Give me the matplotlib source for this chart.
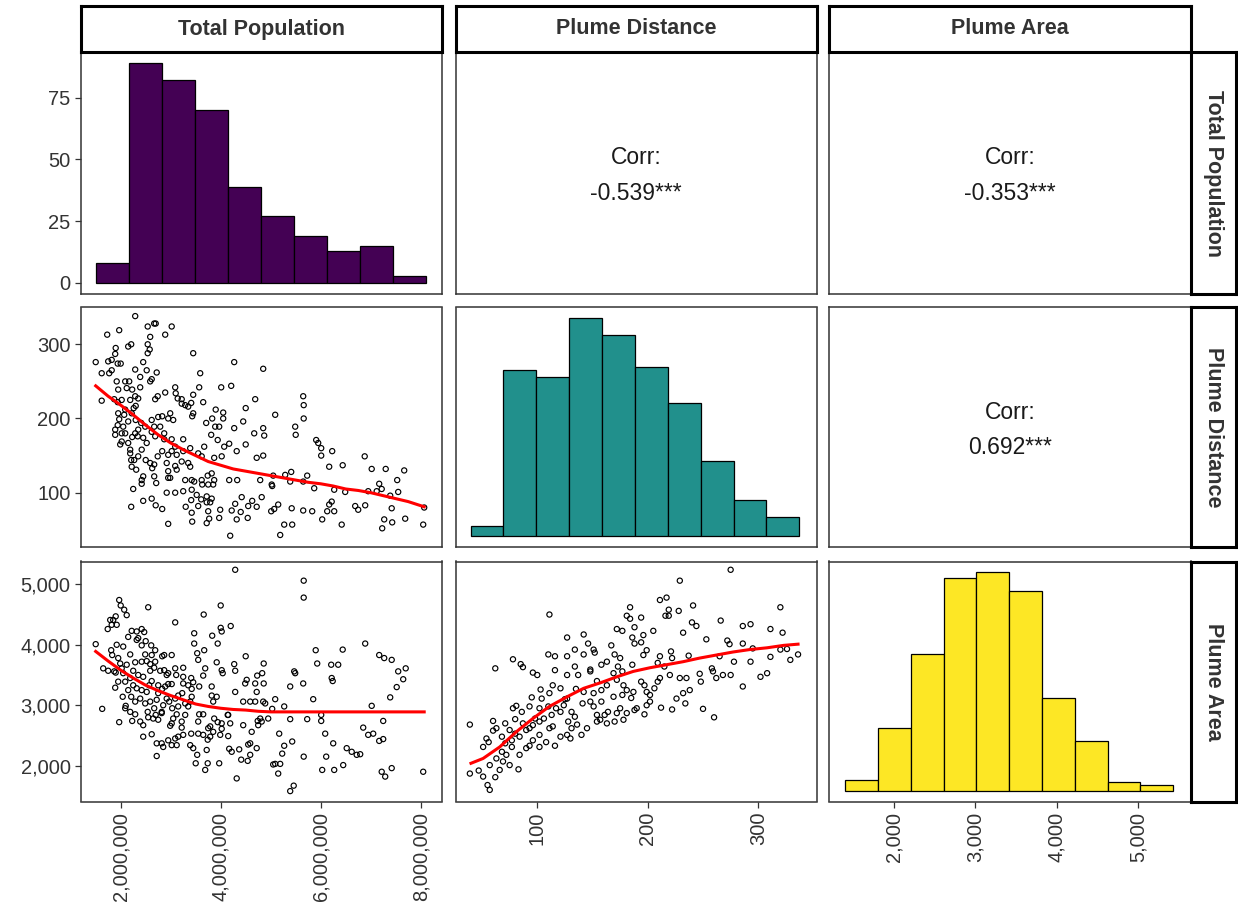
import numpy as np
import matplotlib.pyplot as plt
from matplotlib.ticker import FuncFormatter

plt.rcParams['font.family'] = ['Liberation Sans', 'DejaVu Sans']

# ---------------------------------------------------------------------------
# Data
# ---------------------------------------------------------------------------
var_names = ["Total Population", "Plume Distance", "Plume Area"]

# diagonal histograms (bin edges + counts)
pop_bin_edges_m = [1.506, 2.165, 2.825, 3.484, 4.144, 4.803, 5.462, 6.122, 6.781, 7.441, 8.100]
pop_counts = [8, 89, 82, 70, 39, 27, 19, 13, 15, 3]
dist_bin_edges = [39.7, 69.4, 99.2, 128.9, 158.7, 188.4, 218.1, 247.9, 277.6, 307.4, 337.1]
dist_counts = [3, 51, 49, 67, 62, 52, 41, 23, 11, 6]
area_bin_edges = [1398, 1801, 2204, 2608, 3011, 3414, 3817, 4220, 4624, 5027, 5430]
area_counts = [4, 23, 50, 78, 80, 73, 34, 18, 3, 2]

# upper triangle correlations: (pop, dist), (pop, area), (dist, area)
corr_labels = ["-0.539***", "-0.353***", "0.692***"]

# population (millions) vs plume distance
pop_dist_pairs = [
    (2.29, 338), (1.73, 313), (1.97, 319), (2.54, 324), (2.70, 328), (2.67, 328), (3.02, 324), (2.89, 313),
    (2.59, 310), (2.15, 297), (2.21, 300), (1.90, 295), (1.89, 287), (2.54, 300), (2.58, 293), (2.54, 288),
    (3.45, 288), (1.50, 276), (1.75, 277), (1.82, 279), (1.94, 274), (1.62, 261), (1.77, 261), (1.82, 265),
    (2.00, 274), (2.45, 276), (2.29, 266), (2.52, 265), (2.72, 262), (2.39, 256), (2.62, 253), (2.59, 250),
    (2.09, 250), (2.17, 250), (1.92, 250), (2.12, 241), (2.23, 239), (2.39, 242), (1.95, 239), (2.69, 226),
    (2.74, 230), (2.89, 235), (3.09, 242), (3.10, 234), (3.59, 261), (3.57, 242), (4.01, 242), (4.21, 244),
    (4.27, 276), (4.85, 267), (1.62, 224), (1.87, 226), (1.94, 222), (2.02, 225), (2.19, 225), (2.29, 230),
    (2.35, 227), (2.30, 217), (2.26, 214), (2.09, 212), (1.95, 207), (2.07, 205), (2.22, 207), (3.22, 220),
    (3.29, 218), (3.41, 221), (3.45, 232), (3.35, 216), (3.65, 222), (3.14, 227), (3.22, 226), (4.50, 214),
    (4.69, 226), (5.09, 205), (5.65, 230), (5.66, 218), (5.66, 200), (3.45, 207), (3.43, 203), (2.99, 207),
    (2.83, 203), (2.75, 202), (2.62, 198), (2.95, 200), (3.05, 198), (2.87, 180), (3.90, 212), (4.05, 208),
    (4.05, 200), (3.83, 200), (3.71, 194), (3.89, 189), (3.97, 189), (4.27, 187), (4.45, 196), (4.85, 187),
    (4.67, 180), (4.87, 177), (5.49, 189), (5.50, 178), (5.91, 171), (5.95, 167), (6.01, 160), (6.01, 150),
    (6.23, 156), (6.17, 135), (6.44, 137), (6.88, 149), (7.02, 132), (7.30, 132), (7.67, 130), (4.50, 165),
    (4.32, 156), (4.17, 166), (4.07, 162), (3.81, 178), (3.94, 171), (3.67, 162), (3.55, 153), (3.62, 149),
    (4.02, 149), (3.87, 147), (4.72, 147), (4.85, 150), (5.05, 123), (5.41, 128), (5.29, 124), (5.73, 123),
    (4.79, 117), (4.17, 117), (4.33, 117), (5.03, 109), (5.39, 115), (5.65, 115), (5.87, 106), (6.27, 104),
    (6.49, 101), (6.95, 102), (7.17, 112), (7.22, 105), (7.12, 102), (7.39, 96), (7.53, 117), (7.55, 101),
    (8.07, 80), (8.05, 57), (7.42, 79), (7.27, 64), (7.43, 60), (7.23, 52), (7.69, 65), (6.89, 83),
    (6.69, 82), (6.75, 77), (6.42, 57), (6.22, 88), (6.17, 84), (6.13, 75), (6.27, 75), (6.03, 64),
    (5.83, 75), (5.65, 76), (5.42, 79), (5.43, 57), (5.27, 57), (5.19, 43), (5.15, 84), (5.07, 78),
    (5.01, 75), (4.82, 94), (4.63, 89), (4.55, 82), (4.72, 81), (4.42, 94), (4.29, 85), (4.22, 76),
    (4.32, 64), (4.54, 66), (4.40, 74), (4.19, 42), (3.99, 77), (3.97, 66), (3.75, 75), (3.77, 65),
    (3.72, 59), (3.42, 73), (3.43, 61), (3.30, 81), (3.41, 90), (2.95, 58), (3.72, 87), (3.79, 87),
    (3.61, 91), (3.55, 82), (3.52, 97), (3.25, 102), (3.42, 104), (3.09, 100), (2.92, 100), (2.70, 83),
    (2.83, 78), (2.62, 92), (2.45, 89), (2.21, 81), (2.25, 105), (2.42, 112), (2.71, 113), (2.67, 122),
    (2.74, 149), (2.50, 144), (2.27, 144), (2.19, 153), (2.22, 135), (2.31, 131), (2.21, 144), (2.59, 140),
    (2.67, 138), (2.63, 133), (2.92, 140), (2.95, 129), (3.09, 136), (3.12, 131), (3.22, 142), (3.35, 140),
    (3.39, 135), (3.29, 117), (3.42, 117), (3.47, 115), (3.62, 117), (3.74, 123), (3.82, 126), (3.87, 117),
    (3.75, 111), (3.63, 111), (3.85, 111), (2.34, 176), (2.23, 175), (2.02, 180), (1.89, 178), (1.99, 165),
    (2.15, 167), (2.29, 180), (2.45, 174), (2.52, 167), (2.69, 176), (2.87, 172), (3.02, 172), (3.25, 172),
    (3.09, 162), (3.02, 156), (2.83, 156), (2.95, 151), (3.12, 151), (3.25, 156), (3.39, 160), (1.89, 185),
    (1.94, 191), (2.05, 189), (2.15, 196), (2.30, 198), (2.41, 194), (2.49, 189), (2.67, 189), (2.79, 189),
    (2.62, 182), (2.35, 185), (2.09, 180), (1.97, 199), (2.19, 158), (2.35, 149), (2.42, 158), (2.02, 169),
    (2.42, 117), (2.45, 122), (2.95, 120), (2.99, 120), (3.72, 95), (3.82, 92), (5.02, 111),
]

# population (millions) vs plume area
pop_area_pairs = [
    (4.29, 5240), (5.66, 5060), (5.66, 4780), (4.00, 4650), (2.55, 4620), (1.97, 4740), (2.00, 4650), (2.07, 4580),
    (2.12, 4490), (1.90, 4470), (1.85, 4410), (1.79, 4410), (1.82, 4330), (1.92, 4330), (1.74, 4260), (3.09, 4370),
    (3.66, 4500), (4.00, 4280), (4.20, 4310), (4.02, 4220), (3.83, 4150), (3.94, 4020), (3.47, 4190), (3.47, 4020),
    (3.67, 3910), (3.53, 3860), (3.55, 3750), (1.50, 4010), (1.92, 4000), (2.05, 3970), (1.81, 3910), (2.15, 4130),
    (2.22, 4230), (2.32, 4220), (2.42, 4260), (2.47, 4210), (2.35, 4110), (2.32, 4080), (2.50, 4060), (2.42, 3990),
    (2.61, 3990), (2.69, 3910), (2.62, 3830), (2.49, 3840), (2.87, 3830), (3.02, 3830), (2.83, 3810), (1.83, 3830),
    (1.95, 3780), (2.19, 3840), (1.65, 3610), (1.75, 3570), (1.90, 3540), (2.02, 3610), (1.99, 3690), (2.12, 3670),
    (2.29, 3710), (2.42, 3720), (2.52, 3730), (2.59, 3680), (2.69, 3720), (2.67, 3620), (2.59, 3570), (2.79, 3570),
    (2.87, 3580), (2.95, 3530), (3.09, 3610), (3.25, 3620), (3.41, 3450), (3.25, 3470), (3.11, 3500), (3.25, 3360),
    (3.45, 3380), (3.57, 3310), (3.65, 3490), (3.69, 3610), (3.92, 3710), (4.02, 3580), (4.04, 3530), (4.27, 3680),
    (4.29, 3570), (4.50, 3810), (4.52, 3420), (4.69, 3360), (4.73, 3490), (4.83, 3530), (4.86, 3690), (4.86, 3360),
    (5.47, 3560), (5.49, 3530), (5.65, 3360), (5.39, 3310), (5.93, 3690), (5.90, 3910), (6.21, 3670), (6.22, 3450),
    (6.24, 3400), (6.35, 3670), (6.44, 3920), (6.89, 4020), (7.17, 3830), (7.27, 3780), (7.42, 3750), (7.55, 3560),
    (7.70, 3610), (7.65, 3430), (7.52, 3300), (7.39, 3130), (7.02, 2990), (7.25, 2740), (6.85, 2630), (6.95, 2510),
    (7.05, 2530), (7.17, 2410), (7.25, 2440), (7.22, 1900), (7.29, 1820), (7.42, 1960), (8.05, 1900), (6.79, 2190),
    (6.72, 2180), (6.62, 2230), (6.52, 2290), (6.45, 2010), (6.25, 2370), (6.27, 1930), (6.11, 2150), (6.03, 1930),
    (6.09, 2530), (6.01, 2840), (6.01, 2740), (5.85, 3100), (5.73, 2770), (5.66, 2150), (5.39, 2770), (5.43, 2400),
    (5.39, 1580), (5.46, 1670), (5.27, 2330), (5.23, 2200), (5.17, 2530), (5.19, 2030), (5.09, 2030), (5.15, 1870),
    (5.05, 2020), (5.09, 3100), (5.03, 2940), (5.27, 2980), (4.85, 3060), (4.89, 3030), (4.69, 3060), (4.75, 2670),
    (4.74, 2740), (4.79, 2780), (4.62, 2560), (4.55, 2350), (4.54, 2080), (4.41, 2100), (4.45, 2670), (4.37, 2270),
    (4.32, 1790), (4.17, 2280), (4.15, 2490), (4.14, 2840), (4.19, 2700), (4.02, 2610), (3.97, 2040), (3.94, 2720),
    (3.87, 2780), (3.92, 3140), (3.82, 3160), (3.75, 2620), (3.79, 2650), (3.74, 2430), (3.65, 2850), (3.57, 2850),
    (3.72, 2260), (3.69, 1930), (3.74, 2040), (3.50, 2040), (3.53, 2180), (3.45, 2290), (3.39, 2340), (3.41, 2530),
    (3.22, 2730), (3.25, 2510), (3.29, 2840), (3.12, 2850), (3.03, 2950), (3.15, 2980), (3.09, 3110), (3.15, 3160),
    (3.23, 3200), (3.35, 2980), (3.39, 3060), (3.42, 3270), (3.02, 3350), (2.95, 3350), (2.89, 3310), (2.83, 3270),
    (2.75, 3200), (2.72, 3090), (2.67, 2950), (2.70, 2840), (2.65, 2780), (2.75, 2760), (2.54, 2890), (2.59, 3060),
    (2.49, 3030), (2.39, 3110), (2.29, 3060), (2.42, 3250), (2.32, 3280), (2.15, 3250), (2.25, 3330), (2.09, 3390),
    (1.95, 3390), (1.89, 3290), (2.04, 3140), (2.21, 3140), (2.10, 2990), (2.19, 2890), (2.29, 2850), (2.23, 2740),
    (2.39, 2730), (2.45, 2670), (2.09, 2950), (1.97, 2720), (1.63, 2940), (2.45, 2480), (2.62, 2520), (2.72, 2370),
    (2.82, 2370), (2.85, 2310), (2.95, 2420), (3.02, 2340), (3.12, 2340), (3.09, 2450), (2.99, 2660), (3.05, 2780),
    (3.22, 2630), (2.72, 2160), (2.55, 2800), (2.85, 3000), (2.92, 3110), (2.97, 3060), (2.82, 2870), (3.55, 2730),
    (3.65, 2510), (3.79, 2480), (3.85, 2560), (3.99, 2510), (4.15, 2840), (4.22, 2230), (4.59, 2370), (4.59, 2180),
    (4.72, 2290), (4.82, 2730), (4.95, 2780), (4.29, 3220), (4.49, 3360), (2.45, 3470), (2.57, 3330), (2.52, 3220),
    (2.35, 3500), (2.25, 3570), (1.87, 3560), (2.05, 3530), (2.19, 3450), (2.62, 3400), (2.75, 3330), (2.92, 3500),
    (3.35, 3330), (3.42, 3140), (3.82, 3310), (3.85, 3060), (4.02, 2700), (4.45, 3060), (4.59, 3060), (4.72, 3220),
    (3.55, 2530), (3.15, 2480), (2.82, 2890), (3.02, 2700), (3.29, 3030),
]

# plume distance vs plume area
dist_area_pairs = [
    (275, 5240), (229, 5060), (211, 4740), (217, 4780), (184, 4620), (181, 4480), (194, 4450), (184, 4430),
    (219, 4580), (228, 4560), (241, 4650), (111, 4500), (216, 4480), (219, 4480), (240, 4370), (244, 4310),
    (266, 4400), (286, 4310), (293, 4340), (320, 4620), (311, 4260), (322, 4200), (172, 4260), (177, 4230),
    (188, 4290), (205, 4230), (196, 4160), (186, 4120), (188, 4020), (194, 4040), (232, 4200), (253, 4090),
    (272, 4070), (274, 4010), (286, 4020), (295, 3940), (320, 3920), (326, 3930), (336, 3840), (329, 3750),
    (311, 3800), (293, 3720), (278, 3720), (265, 3810), (127, 4120), (142, 4170), (146, 4020), (134, 3920),
    (151, 3920), (152, 3870), (142, 3840), (127, 3810), (116, 3810), (110, 3840), (78, 3760), (85, 3680),
    (87, 3630), (62, 3610), (96, 3540), (100, 3500), (116, 3580), (134, 3640), (127, 3500), (137, 3500),
    (148, 3560), (148, 3590), (158, 3670), (163, 3720), (167, 3990), (170, 3840), (175, 3780), (173, 3640),
    (177, 3560), (169, 3530), (186, 3670), (196, 3830), (199, 3910), (211, 3810), (221, 3890), (222, 3780),
    (237, 3820), (209, 3700), (215, 3640), (220, 3500), (211, 3450), (229, 3450), (235, 3450), (247, 3520),
    (258, 3610), (259, 3560), (262, 3450), (268, 3500), (275, 3500), (302, 3470), (308, 3530), (286, 3310),
    (248, 3390), (238, 3250), (232, 3200), (226, 3110), (234, 3030), (250, 2940), (260, 2800), (222, 2930),
    (212, 2960), (199, 3000), (197, 2850), (202, 3060), (202, 3170), (206, 3280), (194, 3390), (197, 3330),
    (199, 3220), (209, 3390), (187, 3220), (177, 3170), (169, 3140), (185, 3120), (188, 2920), (175, 2950),
    (172, 2870), (178, 2760), (170, 2730), (163, 2700), (157, 2760), (154, 2840), (151, 2980), (148, 3060),
    (158, 3060), (142, 3220), (135, 3270), (127, 3110), (111, 3200), (114, 3330), (103, 3260), (93, 2980),
    (95, 3130), (81, 2990), (78, 2950), (80, 2770), (60, 2740), (54, 2450), (51, 2310), (56, 2390),
    (63, 2620), (71, 2700), (75, 2590), (68, 2480), (71, 2370), (77, 2420), (80, 2530), (84, 2480),
    (93, 2620), (96, 2670), (102, 2730), (106, 2780), (113, 2840), (117, 2950), (121, 2890), (125, 3100),
    (124, 3000), (131, 2890), (134, 2810), (136, 2680), (131, 2620), (127, 2510), (121, 2480), (116, 2330),
    (108, 2390), (102, 2510), (96, 2420), (90, 2290), (84, 2180), (83, 1940), (75, 2010), (69, 2070),
    (66, 1930), (62, 1810), (55, 1680), (57, 1600), (51, 1820), (47, 1920), (39, 1870), (39, 2680),
    (60, 2580), (68, 2230), (72, 2180), (63, 2120), (57, 2010), (77, 2310), (93, 2330), (102, 2310),
    (111, 2620), (130, 2450), (140, 2510), (145, 2620), (154, 2730), (161, 2840), (164, 2890), (181, 2870),
    (190, 2950), (163, 3330), (158, 3250), (151, 3200), (154, 3400), (172, 3420), (178, 3330), (181, 3250),
    (141, 3030), (110, 2980), (104, 3110), (121, 3280), (114, 2650), (128, 2730), (98, 2780), (87, 2700),
    (90, 2590), (102, 2950), (86, 2890),
]

# smoothed trend lines
pop_dist_smooth_pop = [1.50, 1.75, 2.00, 2.25, 2.50, 2.75, 3.00, 3.25, 3.50, 3.75, 4.00, 4.25, 4.50, 4.75,
                       5.00, 5.25, 5.50, 5.75, 6.00, 6.25, 6.50, 6.75, 7.00, 7.25, 7.50, 7.75, 8.07]
pop_dist_smooth_dist = [244, 230, 218, 205, 191, 178, 167, 158, 150, 142, 137, 132, 129, 126,
                        123, 120, 117, 114, 112, 109, 105, 103, 100, 96, 92, 88, 81]
pop_area_smooth_pop = [1.50, 1.75, 2.00, 2.25, 2.50, 2.75, 3.00, 3.25, 3.50, 3.75, 4.00, 4.25, 4.50, 4.75,
                       5.00, 5.50, 6.00, 6.50, 7.00, 7.50, 8.07]
pop_area_smooth_area = [3890, 3730, 3580, 3450, 3330, 3240, 3160, 3090, 3020, 2980, 2950, 2930, 2920, 2900,
                        2890, 2890, 2890, 2890, 2890, 2890, 2890]
dist_area_smooth_dist = [40, 51, 66, 81, 96, 111, 127, 142, 157, 172, 187, 202, 217, 232, 247, 262, 277,
                         292, 308, 323, 336]
dist_area_smooth_area = [2040, 2120, 2310, 2560, 2780, 2980, 3140, 3280, 3370, 3470, 3560, 3620, 3670,
                         3720, 3780, 3830, 3880, 3920, 3950, 3990, 4010]

pd_pop_m, pd_dist = np.array(pop_dist_pairs).T
pa_pop_m, pa_area = np.array(pop_area_pairs).T
da_dist, da_area = np.array(dist_area_pairs).T

# ---------------------------------------------------------------------------
# Layout (pixel boxes on a 1238 x 915 canvas)
# ---------------------------------------------------------------------------
W, H = 1238, 915
COLS = [(81, 442), (455.5, 816.5), (829.5, 1190.5)]
ROWS = [(52, 294), (307.5, 547), (561.5, 801.5)]
XLIMS = [(1.206e6, 8.426e6), (26.0, 352.7), (1208, 5641)]
SCATTER_YLIMS = [None, (26.8, 349.6), (1408, 5377)]

HIST_COLORS = ["#440154", "#21908C", "#FDE725"]
TEXT_COLOR = "#333333"
FRAME_COLOR = "#333333"

fig = plt.figure(figsize=(W / 100, H / 100), dpi=100)


def add_px_axes(x0, y0, x1, y1):
    return fig.add_axes([x0 / W, 1 - y1 / H, (x1 - x0) / W, (y1 - y0) / H])


comma = FuncFormatter(lambda v, _: f"{v:,.0f}")

pop_m_to_people = 1e6
hist_data = [
    (np.array(pop_bin_edges_m) * pop_m_to_people, pop_counts),
    (np.array(dist_bin_edges), dist_counts),
    (np.array(area_bin_edges), area_counts),
]
scatter_data = {
    (1, 0): (pd_pop_m * pop_m_to_people, pd_dist,
             np.array(pop_dist_smooth_pop) * pop_m_to_people, pop_dist_smooth_dist),
    (2, 0): (pa_pop_m * pop_m_to_people, pa_area,
             np.array(pop_area_smooth_pop) * pop_m_to_people, pop_area_smooth_area),
    (2, 1): (da_dist, da_area, dist_area_smooth_dist, dist_area_smooth_area),
}
corr_cells = {(0, 1): corr_labels[0], (0, 2): corr_labels[1], (1, 2): corr_labels[2]}

x_ticks = [[2e6, 4e6, 6e6, 8e6], [100, 200, 300], [2000, 3000, 4000, 5000]]
y_ticks_scatter = {1: [100, 200, 300], 2: [2000, 3000, 4000, 5000]}

for i in range(3):
    for j in range(3):
        ax = add_px_axes(COLS[j][0], ROWS[i][0], COLS[j][1], ROWS[i][1])
        for s in ax.spines.values():
            s.set_color(FRAME_COLOR)
            s.set_linewidth(1.1)
        ax.tick_params(direction="out", length=4.5, width=0.9, color=FRAME_COLOR,
                       labelsize=14.5, labelcolor=TEXT_COLOR, pad=3)
        ax.set_xlim(*XLIMS[j])

        if i == j:
            edges, counts = hist_data[i]
            ax.bar(edges[:-1], counts, width=np.diff(edges), align="edge",
                   color=HIST_COLORS[i], edgecolor="black", linewidth=0.9)
            top = max(counts)
            ax.set_ylim(-0.05 * top, 1.05 * top)
        elif i > j:
            xs, ys, sx, sy = scatter_data[(i, j)]
            ax.scatter(xs, ys, s=14, facecolors="none", edgecolors="black", linewidths=0.85)
            ax.plot(sx, sy, color="red", linewidth=2.2)
            ax.set_ylim(*SCATTER_YLIMS[i])
        else:
            ax.text(0.5, 0.562, "Corr:", transform=ax.transAxes, ha="center", va="center",
                    fontsize=16.5, color="#1a1a1a")
            ax.text(0.5, 0.417, corr_cells[(i, j)], transform=ax.transAxes, ha="center",
                    va="center", fontsize=16.5, color="#1a1a1a")

        # outer ticks only
        if i == 2:
            ax.set_xticks(x_ticks[j])
            ax.xaxis.set_major_formatter(comma)
            for lab in ax.get_xticklabels():
                lab.set_rotation(90)
                lab.set_va("top")
                lab.set_ha("center")
        else:
            ax.set_xticks([])
        if j == 0:
            if i == 0:
                ax.set_yticks([0, 25, 50, 75])
            else:
                ax.set_yticks(y_ticks_scatter[i])
                ax.yaxis.set_major_formatter(comma)
        else:
            ax.set_yticks([])

# facet strips
for j, name in enumerate(var_names):
    sax = add_px_axes(COLS[j][0], 6, COLS[j][1], 52)
    sax.set_xticks([])
    sax.set_yticks([])
    for s in sax.spines.values():
        s.set_color("black")
        s.set_linewidth(2.2)
    sax.text(0.5, 0.5, name, transform=sax.transAxes, ha="center", va="center",
             fontsize=15.5, fontweight="bold", color="#333333")

for i, name in enumerate(var_names):
    sax = add_px_axes(1191, ROWS[i][0], 1236, ROWS[i][1])
    sax.set_xticks([])
    sax.set_yticks([])
    for s in sax.spines.values():
        s.set_color("black")
        s.set_linewidth(2.2)
    sax.text(0.5, 0.5, name, transform=sax.transAxes, ha="center", va="center",
             rotation=-90, fontsize=15.5, fontweight="bold", color="#333333")

fig.savefig("out.png", dpi=100, facecolor="white")
